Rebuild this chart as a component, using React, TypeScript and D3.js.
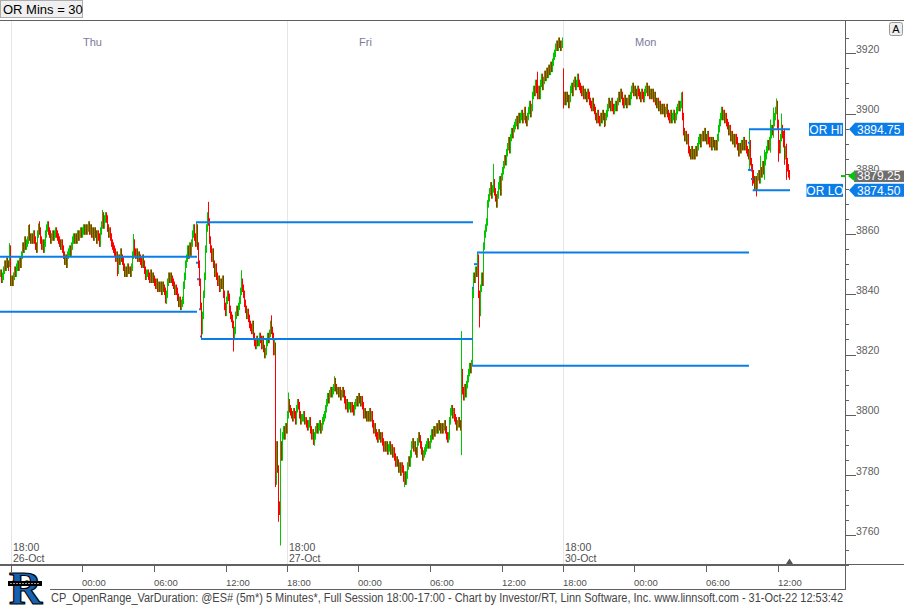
import React from 'react';
import * as d3 from 'd3';

const W = 904;
const H = 606;
const BASE = 3800;

// closes (price - 3800) of 5-minute bars, in time order
const wedTail = [47, 45, 46, 48, 50, 49, 51, 50, 49, 55, 44];
const thuCloses = [
  45, 44, 46, 48, 47, 49, 50, 49, 51, 50, 53, 56, 55, 58, 56, 57, 58, 62, 59, 58,
  59, 58, 60, 58, 56, 55, 60, 63, 61, 58, 56, 57, 55, 57, 60, 62, 63, 61, 60, 58,
  59, 60, 59, 60, 61, 60, 59, 58, 57, 56, 57, 55, 53, 51, 52, 50, 53, 54, 55, 54,
  56, 58, 59, 58, 59, 58, 60, 59, 60, 61, 60, 61, 62, 61, 62, 61, 62, 63, 61, 62,
  60, 61, 59, 61, 60, 58, 60, 59, 57, 61, 63, 66, 63, 65, 66, 65, 62, 60, 61, 59,
  57, 56, 55, 54, 52, 53, 48, 52, 51, 54, 52, 51, 49, 47, 48, 47, 49, 48, 48, 47,
  49, 53, 57, 54, 53, 54, 52, 53, 52, 51, 50, 52, 50, 48, 46, 47, 47, 46, 45, 47,
  45, 46, 45, 44, 43, 44, 42, 43, 42, 43, 41, 43, 42, 41, 38, 40, 44, 46, 45, 46,
  45, 44, 43, 41, 42, 41, 39, 37, 38, 36, 37, 38, 43, 46, 50, 52, 55, 53, 56, 54,
  57, 60, 62, 59, 57, 62, 56, 50, 44, 36, 28, 33, 40, 46, 55, 62, 66, 64, 58, 55,
  52, 54, 50, 47, 49, 46, 44, 45, 42, 44, 43, 45, 40, 36, 34, 38, 40, 39, 35, 33,
  32, 30, 26, 28, 33, 35, 34, 36, 38, 41, 44, 42, 40, 37, 35, 33, 34, 32, 30, 29,
  28, 30, 26, 24, 23, 25, 24, 24, 26, 25, 23, 25, 22, 20, 21, 24, 26, 25, 27, 30,
  28, 26, 21, 24, -22, -10, -18, -30, -32, -10, -14, -7, -5, -7, -4, -5,
];
const friCloses = [
  0, 4, 2, 1, 0, -1, 1, 0, -2, 2, 4, 3, 0, -2, -1, -1, 0, -2, -2, -3,
  -4, -3, -2, -5, -7, -6, -9, -7, -5, -4, -5, -4, -3, -5, -4, -2, -1, 0, 2, 4,
  6, 5, 7, 8, 7, 8, 9, 11, 9, 8, 8, 7, 8, 6, 7, 8, 7, 5, 3, 4,
  2, 3, 3, 2, 3, 2, 1, 3, 4, 5, 4, 6, 5, 4, 5, 3, 0, 1, 0, -1,
  0, -1, 1, -1, 0, -3, -5, -4, -6, -7, -8, -6, -7, -8, -7, -9, -11, -10, -11, -10,
  -12, -11, -10, -12, -11, -13, -12, -14, -16, -15, -16, -18, -17, -19, -17, -18, -21, -20, -22, -20,
  -17, -15, -16, -13, -10, -9, -11, -10, -12, -13, -9, -7, -8, -10, -12, -14, -13, -12, -11, -10,
  -9, -10, -10, -8, -6, -7, -5, -6, -5, -4, -5, -3, -4, -5, -4, -5, -4, -3, -5, -7,
  -8, -7, -2, 1, 2, 0, 1, -1, -2, -4, -3, -2, -3, -4, 14, 8, 6, 9, 7, 10,
  12, 14, 16, 15, 17, 40, 46, 45, 48, 47, 52, 40, 34, 42, 46, 44, 56, 60, 62, 64,
  70, 72, 74, 76, 73, 75, 77, 74, 72, 70, 73, 76, 78, 74, 79, 81, 83, 85, 84, 87,
  89, 91, 88, 92, 94, 93, 95, 96, 97, 98, 96, 99, 98, 99, 100, 98, 99, 101, 98, 97,
  99, 101, 103, 100, 102, 106, 108, 107, 110, 108, 106, 108, 106, 110, 112, 109, 111, 113, 112, 114,
  113, 115, 114, 116, 115, 117, 119, 120, 122, 123, 122, 124, 123, 122, 123, 124,
];
const monCloses = [
  104, 106, 104, 106, 105, 103, 105, 108, 109, 107, 110, 111, 109, 110, 112, 110, 109, 108, 107, 108,
  106, 107, 106, 105, 107, 106, 104, 103, 102, 104, 102, 101, 99, 98, 100, 98, 97, 99, 98, 100,
  99, 97, 99, 100, 102, 104, 103, 102, 104, 102, 101, 102, 103, 102, 104, 106, 105, 107, 106, 104,
  103, 105, 104, 103, 104, 105, 104, 106, 108, 109, 107, 108, 107, 106, 108, 107, 106, 105, 107, 106,
  105, 107, 108, 109, 107, 108, 106, 107, 106, 107, 105, 106, 104, 103, 104, 102, 103, 101, 102, 101,
  102, 100, 101, 102, 100, 99, 98, 100, 98, 99, 100, 98, 99, 101, 102, 103, 102, 103, 106, 99,
  94, 92, 93, 91, 92, 88, 87, 86, 88, 86, 87, 86, 88, 87, 89, 91, 92, 90, 92, 93,
  92, 94, 92, 91, 93, 91, 90, 91, 89, 91, 90, 89, 90, 89, 92, 95, 97, 99, 101, 99,
  100, 98, 99, 97, 96, 94, 95, 92, 93, 91, 92, 90, 92, 91, 89, 87, 89, 88, 90, 89,
  91, 89, 90, 88, 87, 86, 90, 84, 82, 80, 78, 76, 78, 76, 79, 80, 78, 81, 80, 83,
  81, 84, 86, 88, 90, 89, 91, 93, 95, 94, 97, 99, 101, 103, 96, 90, 88, 92, 95, 93,
  90, 86, 88, 84, 82, 80, 79.25,
];

// bar extremes: [bar, high, low]
const extremes: [number, number | null, number | null][] = [
  [9, 3857, 3849], [28, 3863, null], [38, 3863.5, null], [102, 3868, null], [117, null, 3846],
  [133, 3860, null], [165, null, 3837], [196, 3863.9, null], [201, null, 3825.2], [208, 3870.7, null],
  [233, null, 3821], [241, 3848, null], [271, 3833, null], [275, 3824, 3776], [278, null, 3764.5],
  [280, 3795.5, 3756.6], [288, 3807.4, null], [313, null, 3790], [334, 3812.8, null], [404, null, 3776],
  [461, 3827.8, 3786.6], [472, 3842.2, 3816.3], [477, 3853.9, null], [479, null, 3829], [493, 3883.3, null],
  [537, 3913.9, null], [563, 3915, 3901.7], [604, null, 3895.5], [681, 3907, null], [749, 3894.75, 3881],
  [752, null, 3876], [754, null, 3874.5], [756, null, 3872.5], [760, 3886, null], [764, 3888, 3878],
  [770, 3898, 3887], [773, 3902, 3892], [776, 3905, null], [778, 3898, 3884], [781, 3900, null],
  [784, 3895, 3883], [786, 3890, 3878],
];

// opening-range levels: [fromBar, toBar, price]
const orSegments: [number, number, number][] = [
  [-5, 197, 3852.5], [-5, 197, 3834.2],
  [196, 473, 3863.9], [196, 198, 3850.5], [197, 199, 3845], [199, 200.5, 3835], [200, 201.5, 3826], [201, 473, 3825.2],
  [472, 474, 3842.2], [474, 477.5, 3850], [477, 749, 3853.9], [472, 749, 3816.3],
  [749, 790, 3894.75], [748, 750, 3890.3], [748, 752, 3881.3], [751, 753, 3878.3], [752.7, 790, 3874.5],
];

const dayNames = ['Thu', 'Fri', 'Mon'];
const sessionDates = ['26-Oct', '27-Oct', '30-Oct'];
const hourLabels = ['18:00', '00:00', '06:00', '12:00'];
const priceTicks = [3760, 3780, 3800, 3820, 3840, 3860, 3880, 3900, 3920];
const orHi = 3894.75;
const orLo = 3874.5;
const lastPrice = 3879.25;
const footer =
  'CP_OpenRange_VarDuration: @ES# (5m*) 5 Minutes*, Full Session 18:00-17:00 - Chart by Investor/RT, Linn Software, Inc. www.linnsoft.com - 31-Oct-22 12:53:42';

const WICK = 1.25;
const GREEN = '#00c800';
const RED = '#ff0000';
const BLUE = '#0a7de8';
const AXIS = '#606060';
const FONT = '"Liberation Sans", Arial, sans-serif';

export default function App() {
  const plotRight = 845;
  const x = d3.scaleLinear().domain([0, 845]).range([0, plotRight]);
  const y = d3.scaleLinear().domain([3760, 3920]).range([535.3, 53.3]);

  const closes = [...wedTail, ...thuCloses, ...friCloses, ...monCloses].map((v) => v + BASE);
  const sessionStarts = [wedTail.length, wedTail.length + thuCloses.length, wedTail.length + thuCloses.length + friCloses.length];
  const ext = new Map(extremes.map((e) => [e[0], e]));
  const bars = closes.map((c, i) => {
    const o = i === 0 ? c : closes[i - 1];
    let hi = Math.max(o, c) + WICK;
    let lo = Math.min(o, c) - WICK;
    const e = ext.get(i);
    if (e) {
      if (e[1] != null) hi = e[1];
      if (e[2] != null) lo = e[2];
    }
    return { i, hi, lo, up: c >= o };
  });

  const timeTicks: { bar: number; label: string }[] = [];
  sessionStarts.forEach((s) => {
    [0, 72, 144, 216].forEach((off, k) => {
      timeTicks.push({ bar: s + off - (k === 0 ? 0 : 1), label: hourLabels[k] });
    });
  });
  const firstTicks = [72, 144, 216].map((off, k) => ({ bar: sessionStarts[0] - 276 + off, label: hourLabels[k + 1] })).filter((t) => t.bar >= 0);
  const allTicks = [...firstTicks, ...timeTicks].filter((t) => t.bar < 800);

  const minorTicks = d3.range(3750, 3930, 5);
  const lastBar = closes.length - 1;

  const valueBox = (p: number, fill: string, text: string) => {
    const cy = y(p);
    const path = `M849,${cy} L855,${cy - 6.5} L904,${cy - 6.5} L904,${cy + 6.5} L855,${cy + 6.5} Z`;
    return (
      <g key={text}>
        <path d={path} fill={fill} />
        <text x={857} y={cy + 4.4} fontSize={12} fill="#fff" fontFamily={FONT}>{text}</text>
      </g>
    );
  };

  return (
    <svg width={W} height={H} style={{ position: 'absolute', left: 0, top: 0, background: '#fff' }}>
      <rect x={0} y={0} width={W} height={H} fill="#fff" />
      {sessionStarts.map((s) => (
        <line key={'sep' + s} x1={x(s) + 0.5} x2={x(s) + 0.5} y1={21} y2={564} stroke="#e6e6e6" />
      ))}
      {sessionStarts.map((s, k) => (
        <text key={'dn' + s} x={x(s + 72)} y={46} fontSize={11} fill="#7a7a9c" fontFamily={FONT}>{dayNames[k]}</text>
      ))}
      {sessionStarts.map((s, k) => (
        <g key={'sd' + s} fontFamily={FONT} fontSize={10.5} fill="#505050">
          <text x={x(s) + 2} y={551}>18:00</text>
          <text x={x(s) + 2} y={562}>{sessionDates[k]}</text>
        </g>
      ))}
      <g>
        {bars.map((b) => (
          <rect key={b.i} x={x(b.i)} y={y(b.hi)} width={1} height={Math.max(1, y(b.lo) - y(b.hi))} fill={b.up ? GREEN : RED} />
        ))}
      </g>
      {orSegments.map((s, k) => (
        <line key={'or' + k} x1={x(s[0])} x2={x(s[1])} y1={y(s[2])} y2={y(s[2])} stroke={BLUE} strokeWidth={2} />
      ))}
      <line x1={0} x2={W} y1={20.5} y2={20.5} stroke={AXIS} />
      <line x1={plotRight + 0.5} x2={plotRight + 0.5} y1={21} y2={589} stroke={AXIS} />
      <line x1={0} x2={plotRight} y1={565} y2={565} stroke={AXIS} strokeWidth={2} />
      <line x1={plotRight} x2={W} y1={564.5} y2={564.5} stroke={AXIS} />
      <line x1={50} x2={plotRight + 1} y1={589.5} y2={589.5} stroke={AXIS} />
      {minorTicks.map((p) => (
        <line key={'mt' + p} x1={plotRight} x2={plotRight + 4} y1={Math.round(y(p)) + 0.5} y2={Math.round(y(p)) + 0.5} stroke={AXIS} />
      ))}
      {priceTicks.map((p) => (
        <g key={'pt' + p}>
          <line x1={plotRight} x2={plotRight + 11} y1={Math.round(y(p)) + 0.5} y2={Math.round(y(p)) + 0.5} stroke={AXIS} />
          <text x={856} y={y(p) - 0.5} fontSize={10.5} fill={AXIS} fontFamily={FONT}>{p}</text>
        </g>
      ))}
      {allTicks.map((t, k) => (
        <g key={'tt' + k}>
          <line x1={x(t.bar) + 0.5} x2={x(t.bar) + 0.5} y1={566} y2={572} stroke={AXIS} />
          <text x={x(t.bar)} y={586} fontSize={9.5} fill="#505050" fontFamily={FONT}>{t.label}</text>
        </g>
      ))}
      <path d={`M${x(lastBar) - 3},564 L${x(lastBar) + 0.5},558.5 L${x(lastBar) + 4},564 Z`} fill="#555" />
      <rect x={809} y={y(orHi) - 6.5} width={34} height={13} fill={BLUE} />
      <text x={826} y={y(orHi) + 4.4} fontSize={12} fill="#fff" textAnchor="middle" fontFamily={FONT}>OR HI</text>
      <rect x={806.5} y={y(orLo) - 6.5} width={36.5} height={13} fill={BLUE} />
      <text x={825} y={y(orLo) + 4.4} fontSize={12} fill="#fff" textAnchor="middle" fontFamily={FONT}>OR LO</text>
      {valueBox(orHi, BLUE, orHi.toFixed(2))}
      {valueBox(orLo, BLUE, orLo.toFixed(2))}
      <g>
        <rect x={854} y={y(lastPrice) - 5.5} width={50} height={11.5} fill="#6e6e6e" />
        <path d={`M848,${y(lastPrice)} L855,${y(lastPrice) - 5.5} L855,${y(lastPrice) + 5.5} Z`} fill={GREEN} />
        <line x1={841} x2={846} y1={y(lastPrice)} y2={y(lastPrice)} stroke={GREEN} strokeWidth={2} />
        <text x={857} y={y(lastPrice) + 4.4} fontSize={12} fill="#fff" fontFamily={FONT}>{lastPrice.toFixed(2)}</text>
      </g>
      <rect x={0.5} y={0.5} width={82} height={17} fill="#f0f0f0" stroke="#adadad" />
      <text x={3} y={14} fontSize={13} fill="#000" fontFamily={FONT}>OR Mins = 30</text>
      <rect x={889.5} y={22.5} width={13} height={13} rx={2} fill="#eeeeee" stroke="#999" />
      <text x={896} y={33} fontSize={11} fill="#000" textAnchor="middle" fontFamily={FONT}>A</text>
      <g>
        <text x={9} y={604} fontSize={46} fontWeight="bold" fontFamily='"Liberation Serif", serif' fill="#1662b0" stroke="#000" strokeWidth={1.2}>R</text>
        <rect x={8} y={581} width={34} height={5} fill="#000" />
        <line x1={10} x2={40} y1={583.5} y2={583.5} stroke="#fff" strokeWidth={0.6} strokeDasharray="2 1" />
      </g>
      <text x={51} y={602} fontSize={12} fill="#444" fontFamily={FONT} textLength={792} lengthAdjust="spacingAndGlyphs">{footer}</text>
    </svg>
  );
}
